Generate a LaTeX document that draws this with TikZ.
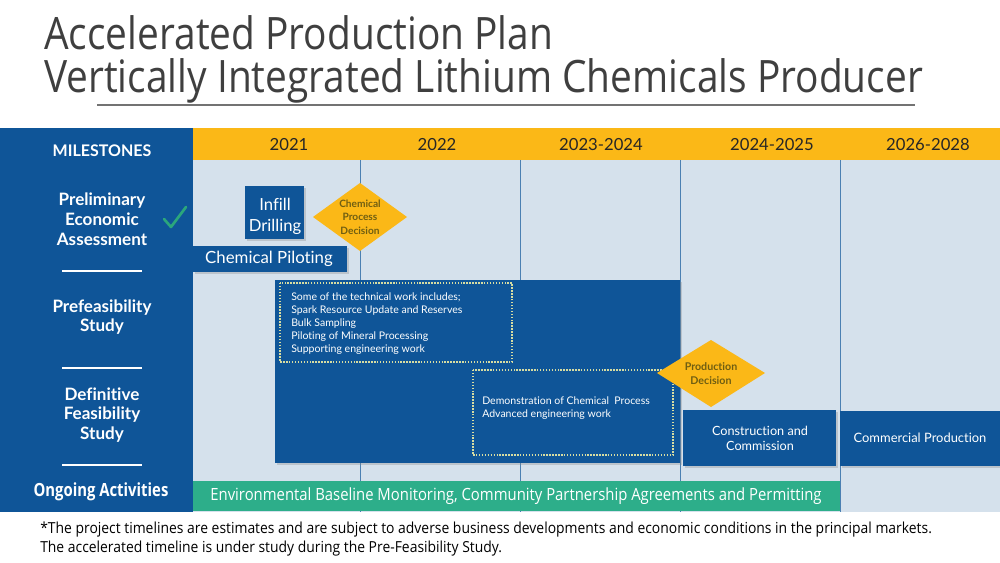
\documentclass[tikz,border=0pt]{standalone}
\usepackage{fontspec}
\setmainfont{Lato}[Ligatures=NoCommon]
\newfontfamily\condfont[FakeStretch=0.82]{Open Sans}
\newfontfamily\titlefont[FakeStretch=0.87]{Open Sans}
\newfontfamily\notefont[FakeStretch=0.915]{Open Sans}
\usetikzlibrary{shadows}
\definecolor{planblue}{HTML}{0F5598}
\definecolor{planyellow}{HTML}{FBB817}
\definecolor{planbg}{HTML}{D5E1EC}
\definecolor{plangreen}{HTML}{2DAE8A}
\definecolor{checkgreen}{HTML}{2BA67C}
\definecolor{titlegray}{HTML}{3F3F3F}
\definecolor{decisiontext}{HTML}{6F5E12}
\definecolor{dotline}{HTML}{D6DCA2}
\begin{document}
\begin{tikzpicture}[
    x=0.75pt, y=-0.75pt,
    bar/.style={fill=planblue, drop shadow={shadow xshift=1.2pt, shadow yshift=-1.2pt, opacity=0.3}},
    dotbox/.style={draw=dotline, line width=1.1pt, dash pattern=on 1.1pt off 1.1pt},
    decision/.style={fill=planyellow},
    side/.style={font=\fontsize{12.8}{14.8}\selectfont\bfseries, text=white, align=center},
    year/.style={font=\fontsize{12.5}{15}\selectfont, text=black!85},
    boxlab/.style={text=white, align=center},
    worklab/.style={font=\fontsize{7.9}{9.75}\selectfont, text=white, align=left, inner sep=0pt, anchor=north west},
    declab/.style={font=\fontsize{7.6}{10.2}\selectfont\bfseries, text=decisiontext, align=center},
    titlelab/.style={anchor=base west, inner sep=0pt, font=\titlefont\fontsize{33.5}{34}\selectfont, text=titlegray},
    sep/.style={white, line width=1.2pt}
  ]
  \useasboundingbox (0,0) rectangle (1000,563);
  \fill[white] (0,0) rectangle (1000,563);

  % title
  \node[titlelab] (title1) at (44,50) {Accelerated Production Plan};
  \node[titlelab] (title2) at (44,93) {Vertically Integrated Lithium Chemicals Producer};
  \draw[black!55, line width=1.1pt] (97,105) -- (915,105);

  % frame
  \fill[planbg] (193,160) rectangle (1000,512);
  \fill[planyellow] (193,128) rectangle (1000,160);
  \fill[planblue] (0,128) rectangle (193,512);
  \foreach \x in {360,520,680,840}
    \draw[planblue!75, line width=0.6pt] (\x,160) -- (\x,512);

  % years
  \node[year] (y21) at (289,145) {2021};
  \node[year] (y22) at (437,145) {2022};
  \node[year] (y23) at (601,145) {2023-2024};
  \node[year] (y24) at (772,145) {2024-2025};
  \node[year] (y26) at (928,145) {2026-2028};

  % milestones column
  \node[side, font=\fontsize{12}{14}\selectfont\bfseries] (ms) at (102,151) {MILESTONES};
  \node[side] (pea) at (102,219) {Preliminary\\Economic\\Assessment};
  \draw[checkgreen, line width=2pt, line cap=round, line join=round] (164,219) -- (171,227) -- (186,207);
  \draw[sep] (62,271) -- (142,271);
  \node[side] (pfs) at (102,317) {Prefeasibility\\Study};
  \draw[sep] (62,368) -- (142,368);
  \node[side] (dfs) at (102,415) {Definitive\\Feasibility\\Study};
  \draw[sep] (62,465) -- (142,465);
  \node[side, font=\condfont\fontsize{13.6}{15}\selectfont\bfseries] (ongo) at (101,492) {Ongoing Activities};

  % 2021
  \path[bar] (245,186) rectangle (304,239);
  \node[boxlab, font=\fontsize{12.5}{15.75}\selectfont] (infill) at (275,216) {Infill\\Drilling};
  \path[bar] (193,246) rectangle (347,272);
  \node[boxlab, font=\fontsize{12.6}{14}\selectfont] (pilot) at (269,259) {Chemical Piloting};
  \path[decision] (313,217) -- (360,183) -- (407,217) -- (360,251) -- cycle;
  \node[declab] (cpd) at (360,217) {Chemical\\Process\\Decision};

  % studies
  \path[bar] (275,280) rectangle (680,463);
  \draw[dotbox] (280,283) rectangle (512,362);
  \node[worklab] (work1) at (291,292) {Some of the technical work includes;\\Spark Resource Update and Reserves\\Bulk Sampling\\Piloting of Mineral Processing\\Supporting engineering work};
  \draw[dotbox] (473,370) rectangle (673,455);
  \node[worklab] (work2) at (482,396) {Demonstration of Chemical\ \ Process\\Advanced engineering work};
  \path[decision] (657,373) -- (711,340) -- (765,373) -- (711,407) -- cycle;
  \node[declab, font=\fontsize{8}{10.5}\selectfont\bfseries] (pd) at (711,374) {Production\\Decision};

  % build and operate
  \path[bar] (683,410) rectangle (836,466);
  \node[boxlab, font=\fontsize{9.5}{11.25}\selectfont] (build) at (760,438) {Construction and\\Commission};
  \path[bar] (840,411) rectangle (1000,466);
  \node[boxlab, font=\fontsize{9.7}{11.25}\selectfont] (prod) at (920,438) {Commercial Production};

  % ongoing
  \fill[plangreen] (193,481) rectangle (840,511);
  \node[boxlab, font=\condfont\fontsize{12.6}{14}\selectfont] (env) at (516,496) {\addfontfeature{FakeStretch=0.885}Environmental Baseline Monitoring, Community Partnership Agreements and Permitting};

  % footnote
  \node[anchor=west, align=left, inner sep=0pt, font=\notefont\fontsize{11.4}{13.6}\selectfont, text=black] (note) at (40,539) {*The project timelines are estimates and are subject to adverse business developments and economic conditions in the principal markets.\\The accelerated timeline is under study during the Pre-Feasibility Study.};
\end{tikzpicture}
\end{document}
